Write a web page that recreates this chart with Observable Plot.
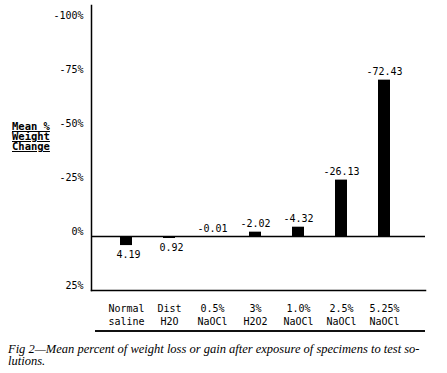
<!DOCTYPE html>
<html><head><meta charset="utf-8">
<script src="https://cdn.jsdelivr.net/npm/d3@7"></script>
<script src="https://cdn.jsdelivr.net/npm/@observablehq/plot@0.6"></script>
<style>
body{margin:0;background:#fff;}
#wrap{position:relative;width:447px;height:373px;overflow:hidden;}
#chart{position:absolute;left:0;top:0;}
#ylab{position:absolute;left:12px;top:121px;font:bold 10.5px "DejaVu Sans Mono",monospace;line-height:10px;text-decoration:underline;color:#000;white-space:pre;}
#rule{position:absolute;left:95px;top:330px;width:330px;border-top:2px solid #111;}
#cap{position:absolute;left:8px;top:343px;font:italic 12.5px "Liberation Serif",serif;line-height:12px;color:#000;white-space:pre;}
</style></head><body>
<div id="wrap">
<div id="chart"></div>
<div id="ylab"></div>
<div id="rule"></div>
<div id="cap"></div>
</div>
<script>
const categories = ["Normal\nsaline","Dist\nH2O","0.5%\nNaOCl","3%\nH2O2","1.0%\nNaOCl","2.5%\nNaOCl","5.25%\nNaOCl"];
const values = [4.19, 0.92, -0.01, -2.02, -4.32, -26.13, -72.43];
const valueLabels = ["4.19","0.92","-0.01","-2.02","-4.32","-26.13","-72.43"];
const yTicks = [-100, -75, -50, -25, 0, 25];
const yTickLabels = ["-100%","-75%","-50%","-25%","0%","25%"];
const yTitle = "Mean %\nWeight\nChange";
const caption = "Fig 2\u2014Mean percent of weight loss or gain after exposure of specimens to test so-\nlutions.";

const data = categories.map((c, i) => ({cat: c, value: values[i], label: valueLabels[i]}));

document.getElementById("ylab").textContent = yTitle;
document.getElementById("cap").textContent = caption;

const chart = Plot.plot({
  width: 447,
  height: 330,
  marginLeft: 91,
  marginRight: 22,
  marginTop: 5,
  marginBottom: 40,
  style: {fontFamily: "DejaVu Sans Mono, monospace", fontSize: "10px", color: "#000", background: "#fff"},
  x: {domain: categories, range: [102.2, 407.8], paddingInner: 0.72, paddingOuter: 0.36, label: null},
  y: {domain: [25, -107], label: null},
  marks: [
    Plot.barY(data, {x: "cat", y: "value", fill: "#000"}),
    Plot.ruleY([0], {stroke: "#000", strokeWidth: 1.5}),
    Plot.frame({anchor: "left", stroke: "#000", strokeWidth: 1.5}),
    Plot.frame({anchor: "bottom", stroke: "#000", strokeWidth: 1.5}),
    Plot.text(data, {filter: d => d.value > 0, x: "cat", y: "value", text: "label", dy: 9, dx: 2, fill: "#000"}),
    Plot.text(data, {filter: d => d.value <= 0, x: "cat", y: "value", text: "label", dy: -8, fill: "#000"}),
    Plot.axisY({ticks: yTicks, tickSize: 0, tickPadding: 8, dy: -5, label: null,
      tickFormat: d => yTickLabels[yTicks.indexOf(d)]}),
    Plot.axisX({tickSize: 0, tickPadding: 12, lineHeight: 1.3, label: null})
  ]
});
document.getElementById("chart").appendChild(chart);
</script>
</body></html>
